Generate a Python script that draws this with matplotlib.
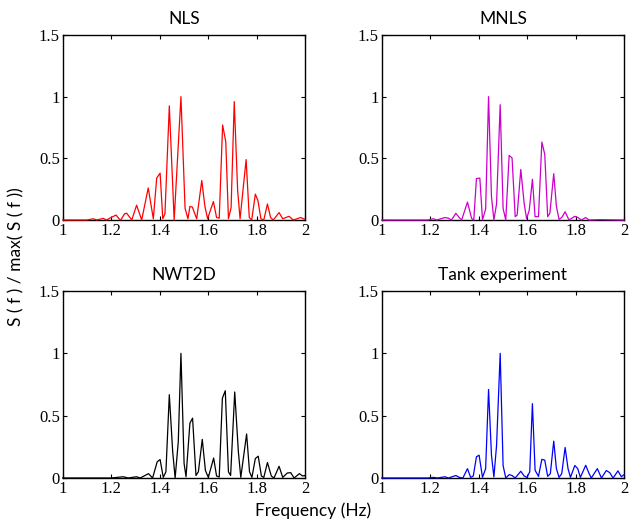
import matplotlib
matplotlib.use("Agg")
import matplotlib.pyplot as plt

# ---- data (vertex frequencies in Hz, normalised spectrum values) ----
nls_f = [1.0, 1.10, 1.127, 1.14, 1.168, 1.18, 1.22, 1.237, 1.243, 1.255, 1.264, 1.285, 1.305, 1.326,
         1.353, 1.374, 1.388, 1.402, 1.413, 1.422, 1.44, 1.46, 1.488, 1.505, 1.517, 1.525, 1.535,
         1.553, 1.574, 1.587, 1.598, 1.622, 1.635, 1.646, 1.66, 1.673, 1.684, 1.695, 1.708, 1.722,
         1.732, 1.757, 1.77, 1.78, 1.795, 1.806, 1.818, 1.83, 1.845, 1.858, 1.869, 1.893, 1.908,
         1.934, 1.952, 1.982, 2.0]
nls_v = [0.0, 0.0, 0.01, 0.0, 0.013, 0.0, 0.04, 0.0, 0.01, 0.05, 0.055, 0.0, 0.12, 0.0,
         0.26, 0.01, 0.34, 0.38, 0.01, 0.05, 0.925, 0.0, 1.0, 0.095, 0.01, 0.11, 0.105,
         0.01, 0.32, 0.11, 0.01, 0.15, 0.02, 0.015, 0.77, 0.635, 0.01, 0.1, 0.96, 0.24,
         0.01, 0.49, 0.02, 0.0, 0.21, 0.155, 0.01, 0.0, 0.13, 0.02, 0.0, 0.06, 0.01,
         0.03, 0.0, 0.02, 0.005]

mnls_f = [1.0, 1.19, 1.213, 1.227, 1.261, 1.275, 1.288, 1.306, 1.323, 1.33, 1.354, 1.371, 1.38,
          1.391, 1.405, 1.416, 1.429, 1.441, 1.453, 1.463, 1.474, 1.489, 1.501, 1.512, 1.526,
          1.538, 1.551, 1.559, 1.574, 1.588, 1.598, 1.609, 1.622, 1.633, 1.647, 1.661, 1.673,
          1.685, 1.694, 1.71, 1.721, 1.732, 1.743, 1.757, 1.773, 1.797, 1.81, 1.824, 1.842,
          1.856, 1.9, 2.0]
mnls_v = [0.0, 0.0, 0.01, 0.0, 0.02, 0.015, 0.0, 0.054, 0.013, 0.0, 0.145, 0.013, 0.0,
          0.336, 0.34, 0.0, 0.09, 1.0, 0.19, 0.0, 0.13, 0.935, 0.094, 0.0, 0.524,
          0.503, 0.027, 0.04, 0.41, 0.134, 0.01, 0.08, 0.33, 0.027, 0.027, 0.632, 0.532,
          0.027, 0.054, 0.376, 0.11, 0.005, 0.02, 0.067, 0.0, 0.03, 0.02, 0.0, 0.02,
          0.0, 0.003, 0.0]

nwt_f = [1.0, 1.2, 1.25, 1.27, 1.305, 1.32, 1.354, 1.371, 1.39, 1.402, 1.415, 1.426, 1.44,
         1.454, 1.464, 1.477, 1.488, 1.501, 1.509, 1.525, 1.536, 1.55, 1.56, 1.576, 1.589,
         1.601, 1.623, 1.635, 1.646, 1.659, 1.671, 1.684, 1.693, 1.71, 1.725, 1.735, 1.759,
         1.771, 1.781, 1.795, 1.807, 1.82, 1.83, 1.845, 1.861, 1.872, 1.893, 1.908, 1.927,
         1.941, 1.955, 1.977, 1.99, 2.0]
nwt_v = [0.0, 0.0, 0.01, 0.0, 0.01, 0.0, 0.035, 0.0, 0.13, 0.148, 0.005, 0.05, 0.668,
         0.21, 0.0, 0.29, 1.0, 0.116, 0.01, 0.44, 0.48, 0.02, 0.05, 0.31, 0.06,
         0.005, 0.16, 0.016, 0.008, 0.64, 0.70, 0.05, 0.02, 0.69, 0.21, 0.005, 0.353,
         0.05, 0.005, 0.156, 0.175, 0.016, 0.005, 0.124, 0.016, 0.0, 0.094, 0.005, 0.04,
         0.043, 0.0, 0.035, 0.016, 0.02]

tank_f = [1.0, 1.19, 1.213, 1.23, 1.261, 1.275, 1.306, 1.32, 1.335, 1.354, 1.367, 1.378,
          1.391, 1.402, 1.416, 1.429, 1.441, 1.453, 1.463, 1.474, 1.489, 1.501, 1.512, 1.526,
          1.538, 1.551, 1.574, 1.588, 1.6, 1.611, 1.622, 1.633, 1.647, 1.661, 1.673, 1.685,
          1.696, 1.71, 1.721, 1.732, 1.743, 1.757, 1.769, 1.779, 1.797, 1.809, 1.82, 1.842,
          1.856, 1.865, 1.89, 1.907, 1.927, 1.941, 1.955, 1.975, 1.989, 2.0]
tank_v = [0.0, 0.0, 0.005, 0.0, 0.01, 0.0, 0.02, 0.005, 0.0, 0.075, 0.005, 0.016,
          0.17, 0.183, 0.005, 0.075, 0.71, 0.183, 0.008, 0.26, 1.0, 0.1, 0.0, 0.027,
          0.02, 0.0, 0.054, 0.016, 0.005, 0.05, 0.596, 0.062, 0.013, 0.15, 0.143, 0.013,
          0.035, 0.296, 0.075, 0.005, 0.035, 0.245, 0.075, 0.005, 0.1, 0.075, 0.005, 0.102,
          0.035, 0.0, 0.075, 0.0, 0.06, 0.043, 0.0, 0.057, 0.01, 0.027]

titles = ["NLS", "MNLS", "NWT2D", "Tank experiment"]
series_f = [nls_f, mnls_f, nwt_f, tank_f]
series_v = [nls_v, mnls_v, nwt_v, tank_v]
colors = ["#ff0000", "#cc00cc", "#000000", "#0000ff"]

x_ticks = [1, 1.2, 1.4, 1.6, 1.8, 2]
x_ticklabels = ["1", "1.2", "1.4", "1.6", "1.8", "2"]
y_ticks = [0, 0.5, 1, 1.5]
y_ticklabels = ["0", "0.5", "1", "1.5"]

sans = ["Lato", "DejaVu Sans"]
serif = ["Liberation Serif", "DejaVu Serif"]

W, H = 629, 520
fig = plt.figure(figsize=(W / 100, H / 100), dpi=100)

boxes = [
    (62.7, 35, 305, 220),
    (381.7, 35, 624, 220),
    (62.7, 291, 305, 478),
    (381.7, 291, 624, 478),
]

for i, (x0, y0, x1, y1) in enumerate(boxes):
    ax = fig.add_axes([x0 / W, 1 - y1 / H, (x1 - x0) / W, (y1 - y0) / H])
    ax.plot(series_f[i], series_v[i], color=colors[i], lw=0.9, zorder=3, clip_on=False)
    ax.set_xlim(1, 2)
    ax.set_ylim(0, 1.5)
    ax.set_xticks(x_ticks)
    ax.set_xticklabels(x_ticklabels, fontfamily=serif, fontsize=12)
    ax.set_yticks(y_ticks)
    ax.set_yticklabels(y_ticklabels, fontfamily=serif, fontsize=12)
    ax.tick_params(direction="in", top=True, right=True, length=3, width=0.8, pad=2)
    for s in ax.spines.values():
        s.set_linewidth(1.0)
        s.set_zorder(2)
    ax.set_title(titles[i], fontfamily=sans, fontsize=12.5, pad=8)

fig.text(313 / W, 1 - 511 / H, "Frequency (Hz)", ha="center", va="center",
         fontfamily=sans, fontsize=12.5)
fig.text(16 / W, 1 - 257 / H, "S ( f ) / max( S ( f ))", ha="center", va="center",
         rotation=90, fontfamily=sans, fontsize=12.5)

fig.savefig("out.png", dpi=100)
